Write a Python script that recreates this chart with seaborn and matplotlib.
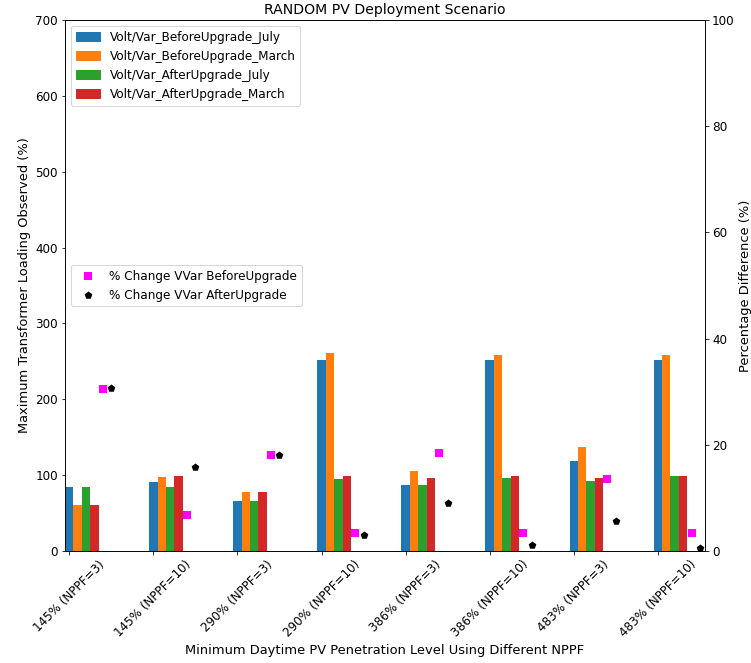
import numpy as np
import pandas as pd
import seaborn as sns
import matplotlib
matplotlib.use('Agg')
from matplotlib import pyplot as plt
from matplotlib.patches import Patch

labels = ['145% (NPPF=3)', '145% (NPPF=10)', '290% (NPPF=3)', '290% (NPPF=10)',
          '386% (NPPF=3)', '386% (NPPF=10)', '483% (NPPF=3)', '483% (NPPF=10)']
series = ['Volt/Var_BeforeUpgrade_July', 'Volt/Var_BeforeUpgrade_March',
          'Volt/Var_AfterUpgrade_July', 'Volt/Var_AfterUpgrade_March']
before_july = [84.5, 90.5, 65.5, 251.5, 87.5, 251.5, 118.5, 251.5]
before_march = [61, 97, 78, 261, 106, 259, 137, 259]
after_july = [84.5, 84.5, 65.5, 95.5, 87.5, 96.5, 92, 98.5]
after_march = [61, 98.5, 78, 98.5, 96.5, 98.5, 96.5, 98.5]
pct_before = [30.5, 6.7, 18.0, 3.3, 18.5, 3.3, 13.6, 3.3]
pct_after = [30.7, 15.8, 18.0, 3.1, 9.0, 1.1, 5.7, 0.6]

colors = ['#1f77b4', '#ff7f0e', '#2ca02c', '#d62728']

df = pd.DataFrame({'scenario': labels, series[0]: before_july, series[1]: before_march,
                   series[2]: after_july, series[3]: after_march})
df = df.melt(id_vars='scenario', var_name='series', value_name='loading')

plt.rcParams['xtick.labelsize'] = 12
plt.rcParams['ytick.labelsize'] = 12
plt.rcParams['legend.fontsize'] = 12

fig, ax = plt.subplots(figsize=(751 / 72, 663 / 72), dpi=72)
plt.subplots_adjust(left=0.0866, right=0.9387, top=0.9698, bottom=0.1689)

sns.barplot(data=df, x='scenario', y='loading', hue='series', hue_order=series,
            palette=colors, saturation=1, width=0.4, errorbar=None, legend=False, ax=ax)

pos = np.arange(len(labels))
ax.set_ylim(0, 700)
ax.set_yticks(range(0, 701, 100))
ax.set_xticks(pos - 0.15)
ax.set_xticklabels(labels, rotation=45)
ax.set_xlabel('Minimum Daytime PV Penetration Level Using Different NPPF', fontsize=13)
ax.set_ylabel('Maximum Transformer Loading Observed (%)', fontsize=13)
ax.set_title('RANDOM PV Deployment Scenario', fontsize=14)
handles = [Patch(color=c, label=s) for c, s in zip(colors, series)]
ax.legend(handles=handles, loc='upper left')

ax2 = ax.twinx()
sns.scatterplot(x=pos + 0.25, y=pct_before, marker='s', color='magenta', s=64,
                linewidth=0, ax=ax2, label='% Change VVar BeforeUpgrade')
sns.scatterplot(x=pos + 0.35, y=pct_after, marker='p', color='black', s=64,
                linewidth=0, ax=ax2, label='% Change VVar AfterUpgrade')
ax2.set_ylim(0, 100)
ax2.set_ylabel('Percentage Difference (%)', fontsize=13)
ax2.legend(loc='center left', scatterpoints=1)

ax.set_xlim(-0.2, 7.41)

plt.savefig('out.png', dpi=72)
